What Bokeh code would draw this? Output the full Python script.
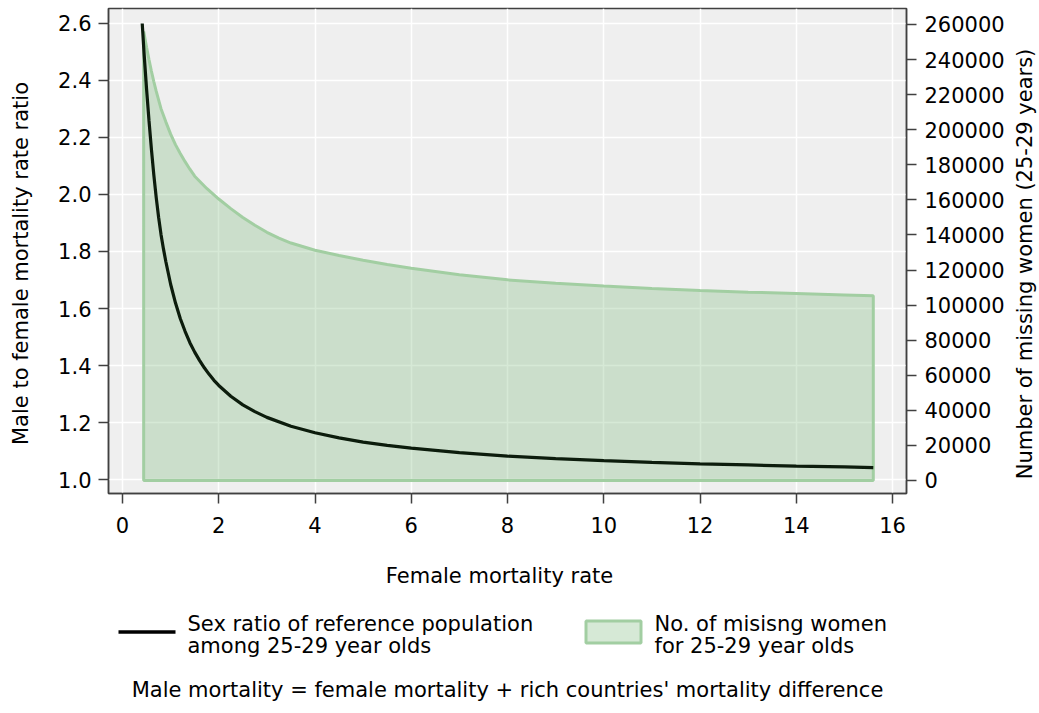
import math
from bokeh.plotting import figure
from bokeh.models import Range1d, LinearAxis, FixedTicker, PrintfTickFormatter
from bokeh.layouts import column, row
from bokeh.embed import file_html
from bokeh.resources import INLINE
from bokeh.core.properties import value

# ---- data ----
ratio_f = [0.41, 0.45, 0.5, 0.55, 0.6, 0.65, 0.7, 0.75, 0.8, 0.85, 0.9, 1.0, 1.1, 1.2, 1.3,
           1.4, 1.5, 1.6, 1.7, 1.8, 1.9, 2.0, 2.25, 2.5, 2.75, 3.0, 3.5, 4.0, 4.5, 5.0, 5.5,
           6.0, 7.0, 8.0, 9.0, 10, 11, 12, 13, 14, 15, 15.6]
ratio_v = [2.60, 2.49, 2.37, 2.26, 2.16, 2.07, 1.99, 1.92, 1.86, 1.81, 1.765, 1.685, 1.62,
           1.565, 1.52, 1.48, 1.447, 1.418, 1.392, 1.369, 1.348, 1.33, 1.292, 1.262, 1.238,
           1.218, 1.187, 1.164, 1.146, 1.131, 1.12, 1.11, 1.094, 1.082, 1.073, 1.066, 1.06,
           1.055, 1.051, 1.047, 1.044, 1.042]

missing_f = [0.44, 0.5, 0.55, 0.6, 0.65, 0.7, 0.8, 0.9, 1.0, 1.1, 1.2, 1.3, 1.4, 1.5, 1.75,
             2.0, 2.25, 2.5, 2.75, 3.0, 3.25, 3.5, 4.0, 4.5, 5.0, 5.5, 6.0, 7.0, 8.0, 9.0,
             10, 11, 12, 13, 14, 15, 15.6]
missing_v = [256000, 247000, 240000, 233500, 227500, 222000, 212000, 204500, 197500, 191500,
             186500, 181800, 177500, 173500, 166500, 160500, 155000, 150000, 145500, 141500,
             138200, 135400, 131300, 128300, 125600, 123200, 121000, 117300, 114400, 112400,
             110900, 109500, 108300, 107400, 106600, 105800, 105300]

x_ticks = [0, 2, 4, 6, 8, 10, 12, 14, 16]
left_ticks = [1.0, 1.2, 1.4, 1.6, 1.8, 2.0, 2.2, 2.4, 2.6]
right_ticks = list(range(0, 260001, 20000))

x_title = "Female mortality rate"
left_title = "Male to female mortality rate ratio"
right_title = "Number of missing women (25-29 years)"
legend_line = ["Sex ratio of reference population", "among 25-29 year olds"]
legend_area = ["No. of misisng women", "for 25-29 year olds"]
note = "Male mortality = female mortality + rich countries' mortality difference"

FONT = "DejaVu Sans"
FS = "21px"
FRAME = "#404040"
GREEN_LINE = "#a2cea2"
GREEN_FILL = (123, 184, 123)
DARK = "#0c1c0c"

# page geometry (pixels)
PAGE_W, PAGE_H = 1039, 713
LEFT_W = 42            # strip holding the left axis title
RIGHT_X = 1010         # strip holding the right axis title starts here
FL, FR = 108, 906      # plot frame left / right on the page
FT, FB = 8, 493        # plot frame top / bottom on the page
H1 = 555               # height of the plot row
MID_W = RIGHT_X - LEFT_W
H2 = PAGE_H - H1


def strip(width, x0):
    s = figure(width=width, height=H1, x_range=Range1d(x0, x0 + width),
               y_range=Range1d(FB, FT), min_border_left=0, min_border_right=0,
               min_border_top=FT, min_border_bottom=H1 - FB, toolbar_location=None,
               output_backend="svg", title=None)
    s.axis.visible = False
    s.grid.visible = False
    s.outline_line_color = None
    s.background_fill_color = "white"
    s.border_fill_color = "white"
    return s


# ---- main plot ----
p = figure(width=MID_W, height=H1, x_range=Range1d(-0.291, 16.29),
           y_range=Range1d(0.9509, 2.6526), min_border_left=FL - LEFT_W,
           min_border_right=RIGHT_X - FR, min_border_top=FT, min_border_bottom=H1 - FB,
           toolbar_location=None, output_backend="svg", title=None)
p.extra_y_ranges = {"right": Range1d(-7413, 269120)}
p.background_fill_color = "#efefef"
p.border_fill_color = "white"
p.outline_line_color = FRAME
p.outline_line_width = 1.5

p.xgrid.ticker = FixedTicker(ticks=x_ticks)
p.ygrid.ticker = FixedTicker(ticks=left_ticks)
p.grid.grid_line_color = "white"
p.grid.grid_line_width = 1.5

ry = LinearAxis(y_range_name="right")
p.add_layout(ry, "right")

p.xaxis.ticker = FixedTicker(ticks=x_ticks)
p.yaxis[0].ticker = FixedTicker(ticks=left_ticks)
p.yaxis[0].formatter = PrintfTickFormatter(format="%.1f")
ry.ticker = FixedTicker(ticks=right_ticks)
ry.formatter = PrintfTickFormatter(format="%d")

for ax in p.axis:
    ax.axis_line_color = FRAME
    ax.axis_line_width = 1.5
    ax.major_tick_line_color = FRAME
    ax.major_tick_line_width = 1.5
    ax.major_tick_out = 10
    ax.major_tick_in = 0
    ax.minor_tick_line_color = None
    ax.major_label_text_font = FONT
    ax.major_label_text_font_size = FS
    ax.major_label_text_color = "black"

p.xaxis.major_label_standoff = 13
p.yaxis[0].major_label_standoff = 7
ry.major_label_standoff = 8

px = [missing_f[0]] + missing_f + [missing_f[-1]]
py = [0] + missing_v + [0]
p.patch(px, py, y_range_name="right", fill_color=GREEN_FILL, fill_alpha=0.31,
        line_color=GREEN_LINE, line_width=3)
p.line(ratio_f, ratio_v, line_color=DARK, line_width=3.2)

# ---- axis-title strips ----
txt = dict(text_font=value(FONT), text_font_size=FS, text_color="black",
           text_align="center", text_baseline="middle")
pl = strip(LEFT_W, 0)
pl.text(x=[20.5], y=[263], text=[left_title], angle=math.pi / 2, **txt)
pr = strip(PAGE_W - RIGHT_X, RIGHT_X)
pr.text(x=[1024], y=[263.5], text=[right_title], angle=math.pi / 2, **txt)

# ---- x title, legend and note panel (frame aligned with the plot above) ----
p2 = figure(width=MID_W, height=H2, x_range=Range1d(FL, FR), y_range=Range1d(H2, 0),
            min_border_left=FL - LEFT_W, min_border_right=RIGHT_X - FR, min_border_top=0,
            min_border_bottom=0, toolbar_location=None, output_backend="svg", title=None)
p2.axis.visible = False
p2.grid.visible = False
p2.outline_line_color = None
p2.background_fill_color = "white"
p2.border_fill_color = "white"

Y0 = H1  # page y of the panel top
p2.text(x=[499], y=[575 - Y0], text=[x_title], **txt)
p2.line([118, 175], [631.5 - Y0, 631.5 - Y0], line_color="black", line_width=3.5)
p2.quad(left=[585.5], right=[640.5], top=[620.5 - Y0], bottom=[642.5 - Y0],
        fill_color=GREEN_FILL, fill_alpha=0.31, line_color=GREEN_LINE, line_width=3)
leg = dict(text_font=value(FONT), text_font_size=FS, text_baseline="middle",
           text_color="black")
p2.text(x=[187, 187], y=[623 - Y0, 645 - Y0], text=legend_line, **leg)
p2.text(x=[654, 654], y=[623 - Y0, 645 - Y0], text=legend_area, **leg)
p2.text(x=[507], y=[689 - Y0], text=[note], **txt)

layout = row(pl, column(p, p2, spacing=0), pr, spacing=0)
open("out.html", "w").write(file_html(layout, INLINE))
